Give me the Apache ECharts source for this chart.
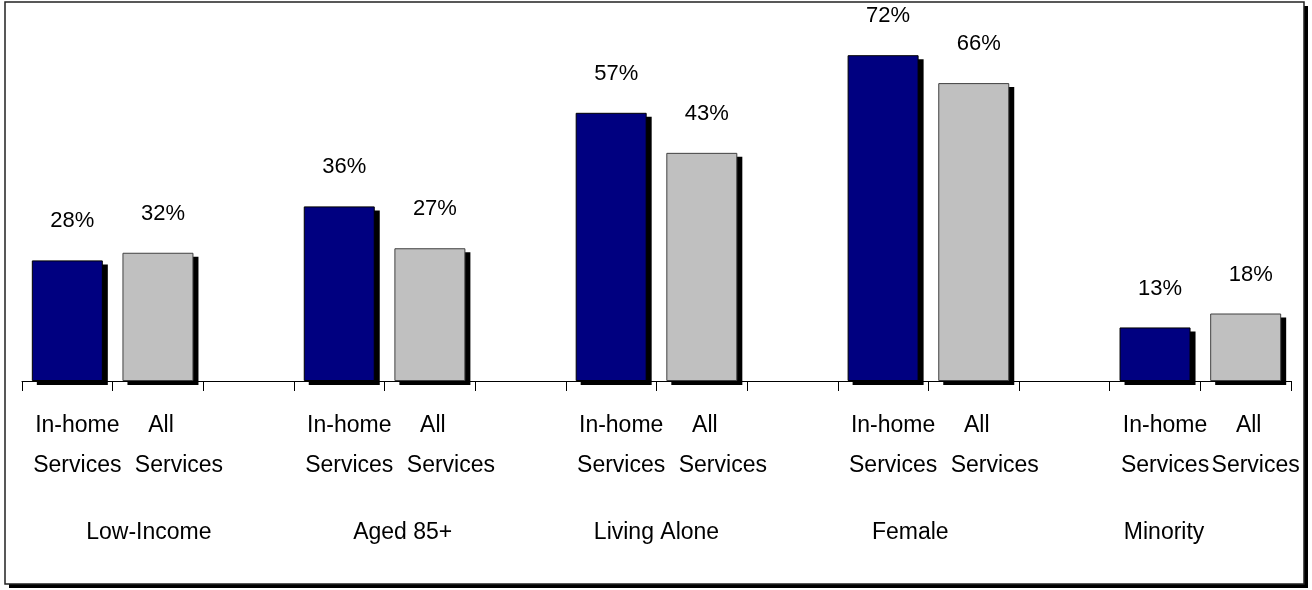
<!DOCTYPE html>
<html>
<head>
<meta charset="utf-8">
<script src="https://cdn.jsdelivr.net/npm/echarts@6/dist/echarts.min.js"></script>
<style>
  html, body { margin: 0; padding: 0; background: #fff; }
  #chart { width: 1312px; height: 590px; }
</style>
</head>
<body>
<div id="chart"></div>
<script>
// groups of the chart, two bars each
const groups = ['Low-Income', 'Aged 85+', 'Living Alone', 'Female', 'Minority']
// bar heights as drawn (percent)
const inHome = [26.8, 38.8, 59.6, 72.4, 11.9]
const allServices = [28.5, 29.5, 50.7, 66.2, 15.0]
// printed labels above the bars
const inHomeLabels = ['28%', '36%', '57%', '72%', '13%']
const allServicesLabels = ['32%', '27%', '43%', '66%', '18%']

// 3 slots per group: in-home, all, empty gap (last group has no gap)
const slots = []
const inHomeData = []
const allData = []
const inHomePlain = []
const allPlain = []
groups.forEach(function (g, i) {
  slots.push('inhome', 'all')
  inHomeData.push({ value: inHome[i], label: { formatter: inHomeLabels[i] } }, '-')
  allData.push('-', { value: allServices[i], label: { formatter: allServicesLabels[i] } })
  inHomePlain.push(inHome[i], '-')
  allPlain.push('-', allServices[i])
  if (i < groups.length - 1) {
    slots.push('')
    inHomeData.push('-')
    allData.push('-')
    inHomePlain.push('-')
    allPlain.push('-')
  }
})

const valueLabel = {
  show: true,
  position: 'top',
  distance: 26,
  offset: [5, 0],
  fontFamily: 'Liberation Sans',
  fontSize: 22,
  lineHeight: 26,
  color: '#000'
}

const myChart = echarts.init(document.getElementById('chart'))
const option = {
  backgroundColor: '#fff',
  animation: false,
  graphic: [
    {
      type: 'rect',
      z: -11,
      shape: { x: 9, y: 6, width: 1299, height: 582 },
      style: { fill: '#000' }
    },
    {
      type: 'rect',
      z: -10,
      shape: { x: 5, y: 2, width: 1299, height: 582 },
      style: { fill: '#fff', stroke: '#222', lineWidth: 1.5 }
    }
  ],
  grid: [
    { left: 22, right: 21, top: 21, bottom: 209, outerBoundsMode: 'none' },
    // offset copy of the plot used for the drop shadow of the bars
    { left: 27, right: 16, top: 25, bottom: 205, outerBoundsMode: 'none' }
  ],
  xAxis: [
    {
      type: 'category',
      data: slots,
      axisLine: { lineStyle: { color: '#000', width: 1 } },
      axisTick: { show: true, length: 10, lineStyle: { color: '#000', width: 1 } },
      axisLabel: {
        interval: 0,
        margin: 25,
        fontFamily: 'Liberation Sans',
        fontSize: 23,
        lineHeight: 40,
        color: '#000',
        formatter: function (v, idx) {
          if (v === 'inhome') return '{ih|In-home}\n{ih|Services}'
          if (v === 'all') {
            return idx === slots.length - 1 ? '{al|All}\n{asEnd|Services}' : '{al|All}\n{as|Services}'
          }
          return ''
        },
        rich: {
          ih: { padding: [0, 0, 0, 20] },
          al: { padding: [0, 0, 0, 6] },
          as: { padding: [0, 0, 0, 42] },
          asEnd: { padding: [0, 0, 0, 20] }
        }
      }
    },
    {
      type: 'category',
      data: groups,
      position: 'bottom',
      axisLine: { show: false },
      axisTick: { show: false },
      axisLabel: {
        interval: 0,
        margin: 140,
        fontFamily: 'Liberation Sans',
        fontSize: 23,
        color: '#000'
      }
    },
    {
      type: 'category',
      gridIndex: 1,
      data: slots,
      show: false
    }
  ],
  yAxis: [
    { type: 'value', min: 0, max: 80, show: false, splitLine: { show: false } },
    { type: 'value', gridIndex: 1, min: 0, max: 80, show: false, splitLine: { show: false } }
  ],
  series: [
    {
      name: 'shadow',
      type: 'bar',
      stack: 'shadow',
      xAxisIndex: 2,
      yAxisIndex: 1,
      barWidth: 71,
      silent: true,
      z: 1,
      itemStyle: { color: '#000' },
      data: inHomePlain
    },
    {
      name: 'shadow',
      type: 'bar',
      stack: 'shadow',
      xAxisIndex: 2,
      yAxisIndex: 1,
      barWidth: 71,
      silent: true,
      z: 1,
      itemStyle: { color: '#000' },
      data: allPlain
    },
    {
      name: 'In-home Services',
      type: 'bar',
      stack: 'slot',
      barWidth: 71,
      z: 3,
      itemStyle: { color: '#000080', borderColor: '#000', borderWidth: 1 },
      label: valueLabel,
      data: inHomeData
    },
    {
      name: 'All Services',
      type: 'bar',
      stack: 'slot',
      barWidth: 71,
      z: 3,
      itemStyle: { color: '#c0c0c0', borderColor: '#404040', borderWidth: 1 },
      label: valueLabel,
      data: allData
    }
  ]
}
myChart.setOption(option)
</script>
</body>
</html>
